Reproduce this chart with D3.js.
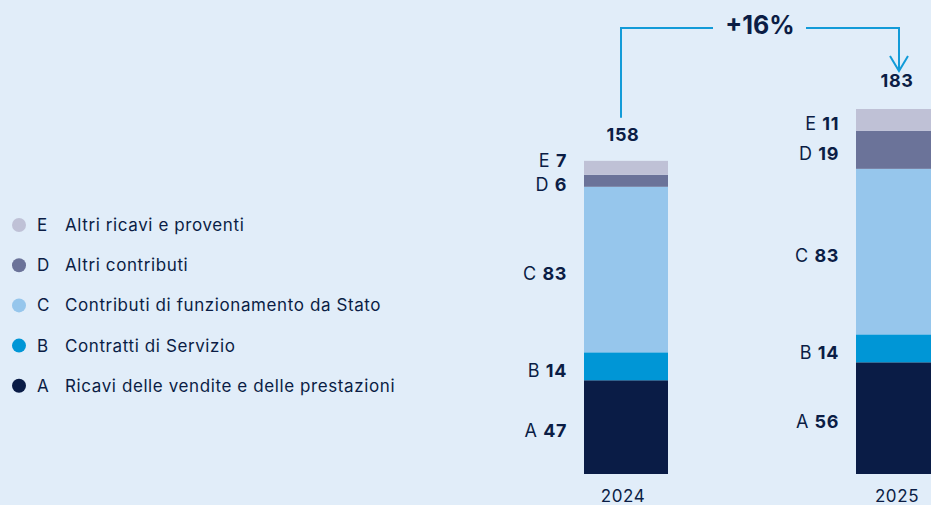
<!DOCTYPE html>
<html>
<head>
<meta charset="utf-8">
<script src="https://cdn.jsdelivr.net/npm/d3@7"></script>
<style>
  html, body { margin: 0; padding: 0; background: #e1edf9; }
  svg { display: block; font-family: Inter, "Noto Sans", sans-serif; }
  text { letter-spacing: 0.6px; }
</style>
</head>
<body>
<div id="chart"></div>
<script>
var width = 931, height = 505;

// dati
var years = ["2024", "2025"];
var keys = ["A", "B", "C", "D", "E"];
var names = {
  A: "Ricavi delle vendite e delle prestazioni",
  B: "Contratti di Servizio",
  C: "Contributi di funzionamento da Stato",
  D: "Altri contributi",
  E: "Altri ricavi e proventi"
};
var values2024 = [47, 14, 83, 6, 7];
var values2025 = [56, 14, 83, 19, 11];
var totals = [158, 183]; // totali come riportati (arrotondati)
var growthLabel = "+16%";

var colors = {A: "#0a1c46", B: "#0096d6", C: "#96c6ec", D: "#6b7399", E: "#bfc1d6"};
var ink = "#0b1d45";

var rows = years.map(function(y, i) {
  var v = i == 0 ? values2024 : values2025;
  var r = {year: y};
  keys.forEach(function(k, j) { r[k] = v[j]; });
  r.total = totals[i];
  return r;
});

var svg = d3.select("#chart").append("svg")
  .attr("width", width)
  .attr("height", height);

// scale
var xScale = d3.scaleBand().domain(years).range([584, 940]).paddingInner(188 / 272).paddingOuter(0);
var yScale = d3.scaleLinear().domain([0, 183]).range([474, 109]);

var stack = d3.stack().keys(keys)(rows);

// barre
var layers = svg.selectAll("g.layer")
  .data(stack)
  .enter().append("g")
  .attr("class", "layer")
  .attr("fill", function(d) { return colors[d.key]; });

layers.selectAll("rect")
  .data(function(d) { return d; })
  .enter().append("rect")
  .attr("x", function(d) { return xScale(d.data.year); })
  .attr("y", function(d) { return yScale(d[1]); })
  .attr("width", xScale.bandwidth())
  .attr("height", function(d) { return yScale(d[0]) - yScale(d[1]); });

// etichette dei segmenti, con un minimo di distanza
var minGap = 24;
rows.forEach(function(r, i) {
  var labs = stack.map(function(s) {
    var seg = s[i];
    return {key: s.key, value: r[s.key], y: (yScale(seg[0]) + yScale(seg[1])) / 2 + 4};
  });
  for (var it = 0; it < 20; it++) {
    for (var j = 0; j < labs.length - 1; j++) {
      var lo = labs[j], hi = labs[j + 1];
      var gap = lo.y - hi.y;
      if (gap < minGap) {
        var push = (minGap - gap) / 2;
        lo.y += push;
        hi.y -= push;
      }
    }
  }
  var xr = xScale(r.year) - 17;
  var t = svg.append("g").selectAll("text")
    .data(labs)
    .enter().append("text")
    .attr("x", xr)
    .attr("y", function(d) { return d.y - (i == 0 && d.key > "C" ? 6 : 0); })
    .attr("dy", "0.35em")
    .attr("text-anchor", "end")
    .attr("fill", ink)
    .style("font-size", "18px");
  t.append("tspan").text(function(d) { return d.key + " "; });
  t.append("tspan").attr("font-weight", 700).text(function(d) { return " " + d.value; });

  // totale
  svg.append("text")
    .attr("x", xScale(r.year) + xScale.bandwidth() / 2 - 3 + i * 2)
    .attr("y", yScale(r.total) - (i == 0 ? 18 : 22))
    .attr("text-anchor", "middle")
    .attr("fill", ink)
    .attr("font-weight", 700)
    .style("font-size", "18px")
    .text(r.total);

  // anno
  svg.append("text")
    .attr("x", xScale(r.year) + xScale.bandwidth() / 2 - 3 + i * 2)
    .attr("y", 502)
    .attr("text-anchor", "middle")
    .attr("fill", ink)
    .style("font-size", "17px")
    .text(r.year);
});

// freccia della crescita
var x1 = xScale("2024") + xScale.bandwidth() / 2 - 5;
var x2 = xScale("2025") + xScale.bandwidth() / 2 + 1;
var yTop = 28;
var arrow = svg.append("g")
  .attr("fill", "none")
  .attr("stroke", "#129bd8")
  .attr("stroke-width", 2);
arrow.append("path").attr("d", "M" + x1 + "," + (yScale(rows[0].total) - 41) + "V" + yTop + "H713");
arrow.append("path").attr("d", "M806," + yTop + "H" + x2 + "V71");
arrow.append("path").attr("d", "M" + (x2 - 9) + ",56L" + x2 + ",71L" + (x2 + 9) + ",56");

svg.append("text")
  .attr("x", 760)
  .attr("y", 34)
  .attr("text-anchor", "middle")
  .attr("fill", ink)
  .attr("font-weight", 700)
  .style("font-size", "25px")
  .style("letter-spacing", "0px")
  .text(growthLabel);

// legenda
var legendKeys = keys.slice().reverse();
var legend = svg.append("g").selectAll("g")
  .data(legendKeys)
  .enter().append("g")
  .attr("transform", function(d, i) { return "translate(0," + (225 + i * 40.2) + ")"; });

legend.append("circle")
  .attr("cx", 19)
  .attr("cy", 0)
  .attr("r", 7)
  .attr("fill", function(d) { return colors[d]; });

legend.append("text")
  .attr("x", 37)
  .attr("dy", "0.35em")
  .attr("fill", ink)
  .style("font-size", "17px")
  .text(function(d) { return d; });

legend.append("text")
  .attr("x", 65)
  .attr("dy", "0.35em")
  .attr("fill", ink)
  .style("font-size", "17px")
  .text(function(d) { return names[d]; });
</script>
</body>
</html>
